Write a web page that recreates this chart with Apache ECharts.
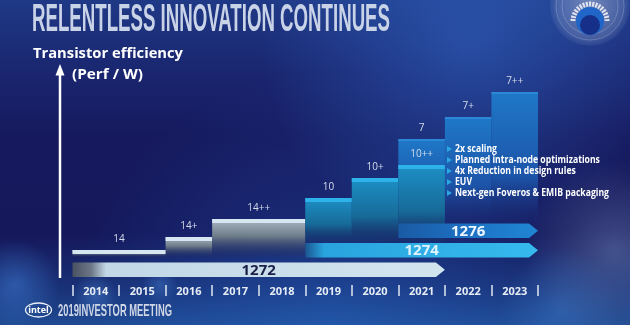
<!DOCTYPE html>
<html><head><meta charset="utf-8">
<script src="https://cdn.jsdelivr.net/npm/echarts@6/dist/echarts.min.js"></script>
<style>html,body{margin:0;padding:0;background:#15185c;overflow:hidden}#chart{width:630px;height:325px}</style>
</head><body><div id="chart"></div>
<script>
// ---- data ----
const years = ['2014','2015','2016','2017','2018','2019','2020','2021','2022','2023'];
const nodeNames      = ['14','14+','14++','10','10+','7','10++','7+','7++'];
const nodeFirstYear  = ['2014','2016','2017','2019','2020','2021','2021','2022','2023'];
const nodeLastYear   = ['2015','2016','2018','2019','2020','2021','2021','2022','2023'];
const nodeEfficiency = [35, 48, 66, 87, 107, 146, 120, 168, 193];
const nodeFamily     = ['14','14','14','10','10','7','10','7','7'];
const processNames     = ['1272','1274','1276'];
const processFirstYear = ['2014','2019','2021'];
const processLastYear  = ['2021','2023','2023'];
const notes = ['2x scaling','Planned intra-node optimizations','4x Reduction in design rules','EUV','Next-gen Foveros & EMIB packaging'];
const title = 'RELENTLESS INNOVATION CONTINUES';
const yTitle1 = 'Transistor efficiency';
const yTitle2 = '(Perf / W)';
const footer = '2019INVESTOR MEETING';

// ---- styles ----
const FAMILY = {
  '14': {floor:28, strip:'#d6e7f1', stripH:4, stops:[[0,'#aab7c4'],[0.45,'#6f7d8b'],[1,'rgba(35,45,85,0.1)']]},
  '10': {floor:43, strip:'#2db3ea', stripH:4, stops:[[0,'#1d90c6'],[0.6,'#176a98'],[1,'rgba(20,55,100,0.3)']]},
  '7':  {floor:62, strip:'#2a88d6', stripH:2, stops:[[0,'#1f78c8'],[0.65,'#1c54a8'],[1,'rgba(25,45,120,0.1)']]}
};
const PROC = {
  '1272': {stops:[[0,'#4a5262'],[0.05,'#6c7685'],[0.09,'#c2d8e6'],[1,'#d2e5ef']], text:'#1a1f48'},
  '1274': {stops:[[0,'#1b5690'],[0.08,'#29a4de'],[1,'#36baee']], text:'#dff2ff'},
  '1276': {stops:[[0,'#1a5aa4'],[0.5,'#1d72c4'],[1,'#2086d4']], text:'#eef6ff'}
};
const FONT = '"Open Sans","DejaVu Sans",sans-serif';
const NARROW = '"Liberation Sans Narrow","Liberation Sans",sans-serif';

function stops(arr){ return arr.map(s=>({offset:s[0], color:s[1]})); }

function renderNode(params, api){
  const i = params.dataIndex;
  const s = api.value(0), e = api.value(1), v = api.value(2);
  const fam = FAMILY[nodeFamily[i]];
  const bw = api.size([1,0])[0];
  const pa = api.coord([s, v]), pb = api.coord([e, v]);
  const x0 = pa[0]-bw/2, x1 = pb[0]+bw/2, yTop = pa[1];
  const yFloor = api.coord([s, fam.floor])[1];
  const h = Math.max(yFloor - yTop, fam.stripH);
  return {type:'group', children:[
    {type:'rect', shape:{x:x0, y:yTop, width:x1-x0, height:h},
     style:{fill:{type:'linear', x:0, y:0, x2:0, y2:1, colorStops:stops(fam.stops)}}},
    {type:'rect', shape:{x:x0, y:yTop, width:x1-x0, height:fam.stripH}, style:{fill:fam.strip}},
    {type:'text', z2:20, style:{text:nodeNames[i], x:(x0+x1)/2, y:yTop-10.5, align:'center', verticalAlign:'middle',
      fill:'#d5dcea', fontSize:10, fontFamily:FONT}}
  ]};
}

function renderProcess(params, api){
  const i = params.dataIndex;
  const s = api.value(0), e = api.value(1), lane = api.value(2);
  const sz = api.size([1,1]);
  const pa = api.coord([s, lane]), pb = api.coord([e, lane]);
  const x0 = pa[0]-sz[0]/2, x1 = pb[0]+sz[0]/2, cy = pa[1];
  const h = sz[1]*0.75, head = 9;
  const st = PROC[processNames[i]];
  return {type:'group', children:[
    {type:'polygon', shape:{points:[[x0,cy-h/2],[x1-head,cy-h/2],[x1,cy],[x1-head,cy+h/2],[x0,cy+h/2]]},
     style:{fill:{type:'linear', x:0, y:0, x2:1, y2:0, colorStops:stops(st.stops)}}},
    {type:'text', z2:20, style:{text:processNames[i], x:(x0+x1)/2, y:cy+0.5, align:'center', verticalAlign:'middle',
      fill:st.text, fontSize:15, fontWeight:'bold', fontFamily:FONT}}
  ]};
}

// text fitting helper (layout)
const meas = document.createElement('canvas').getContext('2d');
function textWidth(text, font){ meas.font = font; return meas.measureText(text).width; }
function fitText(text, font, x, y, width, fill){
  return {type:'text', x:x, y:y, scaleX: width/textWidth(text, font), z:50,
    style:{text:text, font:font, fill:fill, align:'left', verticalAlign:'middle'}};
}
function glow(cx, cy, r, color, alpha){
  return {type:'circle', z:-9, silent:true, shape:{cx:cx, cy:cy, r:r},
    style:{fill:{type:'radial', x:0.5, y:0.5, r:0.5, colorStops:[
      {offset:0, color:'rgba('+color+','+alpha+')'},{offset:1, color:'rgba('+color+',0)'}]}}};
}

const graphics = [
  {type:'rect', z:-10, silent:true, shape:{x:0, y:0, width:630, height:325},
   style:{fill:{type:'linear', x:0, y:0, x2:0, y2:1, colorStops:[
     {offset:0, color:'#1f3986'},{offset:0.22, color:'#1a2670'},{offset:0.42, color:'#16195d'},
     {offset:0.72, color:'#15185b'},{offset:0.88, color:'#193076'},{offset:1, color:'#1f4a92'}]}}},
  glow(470, 40, 210, '50,105,200', 0.55),
  glow(330, 330, 260, '40,110,210', 0.35),
  glow(615, 250, 90, '150,175,215', 0.35),
  glow(15, 285, 45, '70,140,230', 0.45),
  glow(95, 295, 22, '90,160,240', 0.35),
  glow(160, 285, 18, '90,160,240', 0.3),
  glow(560, 310, 60, '80,150,230', 0.3),
  // disc logo
  {type:'circle', z:-5, shape:{cx:590, cy:6, r:40}, style:{fill:{type:'radial', x:0.5, y:0.5, r:0.5, colorStops:[
     {offset:0, color:'rgba(200,210,230,0.5)'},{offset:0.8, color:'rgba(160,175,210,0.3)'},{offset:1, color:'rgba(150,170,210,0.08)'}]}}},
  {type:'circle', z:-4, shape:{cx:590, cy:6, r:34}, style:{fill:'none', stroke:'rgba(230,235,245,0.22)', lineWidth:1}},
  {type:'circle', z:-4, shape:{cx:590, cy:6, r:28}, style:{fill:'none', stroke:'rgba(230,235,245,0.22)', lineWidth:1}},
  {type:'arc', z:-3, shape:{cx:590, cy:21, r:17, startAngle:Math.PI*1.0, endAngle:Math.PI*2.0, clockwise:true},
   style:{stroke:'rgba(240,240,245,0.9)', lineWidth:5, lineDash:[2,1.2], fill:'none'}},
  {type:'circle', z:-3, shape:{cx:590, cy:21, r:14}, style:{fill:'#1f66c8'}},
  {type:'circle', z:-2, shape:{cx:590, cy:25, r:10}, style:{fill:'#16308a'}},
  // titles
  fitText(title, 'bold 38px '+NARROW, 32, 20.5, 358, '#c9d3e8'),
  fitText(yTitle1, 'bold 14px '+FONT, 33, 54.5, 150, '#ffffff'),
  fitText(yTitle2, 'bold 14px '+FONT, 72, 75, 71, '#ffffff'),
  // y axis arrow
  {type:'line', z:40, shape:{x1:60, y1:74, x2:60, y2:278}, style:{stroke:'#ffffff', lineWidth:2.5}},
  {type:'polygon', z:40, shape:{points:[[60,64],[55.5,75.5],[64.5,75.5]]}, style:{fill:'#ffffff'}},
  // footer
  {type:'ellipse', z:40, shape:{cx:38.5, cy:310, rx:13, ry:7}, style:{fill:'none', stroke:'#e8eef8', lineWidth:1.3}},
  {type:'text', z:41, style:{text:'intel', x:38.5, y:310.5, align:'center', verticalAlign:'middle', fill:'#ffffff', font:'bold 9px '+FONT}},
  fitText(footer, 'bold 17px '+NARROW, 58, 311, 114, '#cfd7e6')
];
// notes list
const noteFont = 'bold 10px '+FONT;
const noteScale = 154 / Math.max.apply(null, notes.map(n=>textWidth(n, noteFont)));
notes.forEach((n, k)=>{
  const y = 149 + k*11;
  graphics.push({type:'polygon', z:50, shape:{points:[[447,y-3],[452,y],[447,y+3]]}, style:{fill:'#2aa8e2'}});
  graphics.push({type:'text', x:455, y:y, scaleX:noteScale, z:50,
    style:{text:n, font:noteFont, fill:'#ffffff', align:'left', verticalAlign:'middle'}});
});

const chart = echarts.init(document.getElementById('chart'), null, {renderer:'canvas'});
chart.setOption({
  animation:false,
  grid:[{left:72.5, right:92, top:60, bottom:40}, {left:72.5, right:92, top:221, bottom:45.5}],
  xAxis:[
    {type:'category', gridIndex:0, data:years, boundaryGap:true,
     axisLine:{show:false}, splitLine:{show:false},
     axisTick:{show:true, length:11, lineStyle:{color:'#dfe7f1', width:1.5}},
     axisLabel:{color:'#e6ecf5', fontSize:11, fontWeight:'bold', fontFamily:FONT, margin:1, interval:0}},
    {type:'category', gridIndex:1, data:years, show:false}
  ],
  yAxis:[
    {type:'value', gridIndex:0, min:0, max:225, show:false},
    {type:'category', gridIndex:1, data:processNames, show:false}
  ],
  graphic: graphics,
  series:[
    {type:'custom', name:'nodes', xAxisIndex:0, yAxisIndex:0, z:2, renderItem:renderNode,
     encode:{x:[0,1], y:2},
     data: nodeNames.map((n,i)=>({name:n, value:[years.indexOf(nodeFirstYear[i]), years.indexOf(nodeLastYear[i]), nodeEfficiency[i]]}))},
    {type:'custom', name:'processes', xAxisIndex:1, yAxisIndex:1, z:3, renderItem:renderProcess,
     encode:{x:[0,1], y:2},
     data: processNames.map((n,i)=>({name:n, value:[years.indexOf(processFirstYear[i]), years.indexOf(processLastYear[i]), i]}))}
  ]
});
</script>
</body></html>
